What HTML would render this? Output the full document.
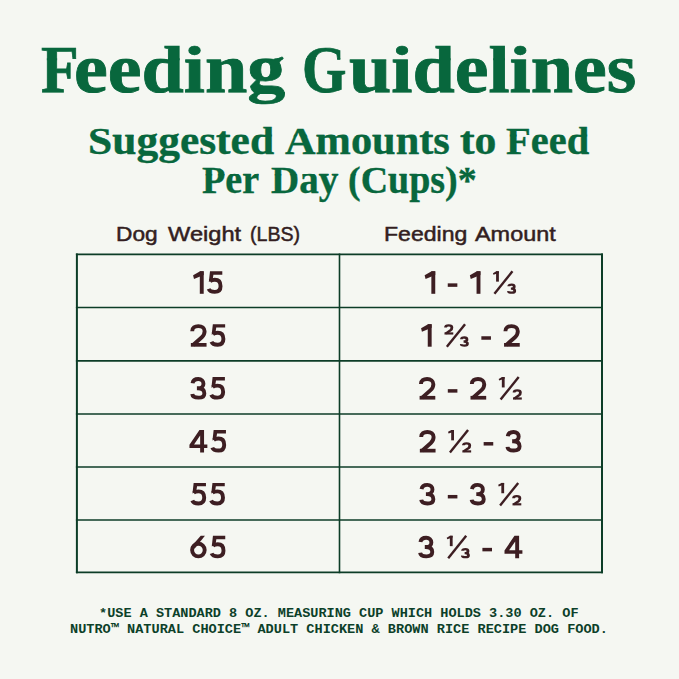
<!DOCTYPE html>
<html>
<head>
<meta charset="utf-8">
<style>
html,body{margin:0;padding:0;}
body{width:679px;height:679px;background:#f5f7f2;position:relative;overflow:hidden;}
.x{position:absolute;white-space:nowrap;line-height:1;transform-origin:0 0;}
svg{position:absolute;left:0;top:0;}
</style>
</head>
<body>
<svg width="679" height="679" viewBox="0 0 679 679"><g stroke="#0c3d27" fill="none"><line x1="75.9" y1="254.4" x2="603" y2="254.4" stroke-width="1.7"/><line x1="75.9" y1="307.5" x2="603" y2="307.5" stroke-width="1.7"/><line x1="75.9" y1="360.8" x2="603" y2="360.8" stroke-width="1.7"/><line x1="75.9" y1="414.0" x2="603" y2="414.0" stroke-width="1.7"/><line x1="75.9" y1="467.0" x2="603" y2="467.0" stroke-width="1.7"/><line x1="75.9" y1="520.0" x2="603" y2="520.0" stroke-width="1.7"/><line x1="75.9" y1="572.3" x2="603" y2="572.3" stroke-width="1.7"/><line x1="76.9" y1="253.5" x2="76.9" y2="573.2" stroke-width="2"/><line x1="339.5" y1="253.5" x2="339.5" y2="573.2" stroke-width="1.6"/><line x1="602" y1="253.5" x2="602" y2="573.2" stroke-width="2"/></g><g fill="none" stroke="#3d1e22" color="#3d1e22"><g transform="translate(193.10,271.30)"><path d="M8.65,0.00V22.50" stroke-width="3.90"/><path d="M7.00,0 L10.60,0 L10.60,3.60 L0.90,7.60 L0,4.00 Z" fill="currentColor" stroke="none"/></g><g transform="translate(207.00,271.30)"><path d="M3.00,0 L15.30,0 L15.30,3.40 L6.40,3.40 L5.60,8.60 L1.80,10.60 Z" fill="currentColor" stroke="none"/><path d="M3.00,9.90 C4.30,8.90 6.00,8.50 7.80,8.50 C11.80,8.50 13.55,11.20 13.55,14.90 C13.55,18.60 11.90,20.55 7.80,20.55 C4.90,20.55 2.40,19.60 1.65,17.60" stroke-width="3.90"/></g><g transform="translate(424.65,271.30)"><path d="M8.65,0.00V22.50" stroke-width="3.90"/><path d="M7.00,0 L10.60,0 L10.60,3.60 L0.90,7.60 L0,4.00 Z" fill="currentColor" stroke="none"/></g><g transform="translate(447.75,271.30)"><path d="M0,12.05 h9.6 v3.5 h-9.6 Z" fill="currentColor" stroke="none"/></g><g transform="translate(469.85,271.30)"><path d="M8.65,0.00V22.50" stroke-width="3.90"/><path d="M7.00,0 L10.60,0 L10.60,3.60 L0.90,7.60 L0,4.00 Z" fill="currentColor" stroke="none"/></g><g transform="translate(492.95,271.30)"><g transform="translate(0.00,0) scale(0.56,0.46)"><path d="M8.10,0.00V22.50" stroke-width="5.00"/><path d="M5.90,0 L10.60,0 L10.60,3.60 L0.90,7.60 L0,4.00 Z" fill="currentColor" stroke="none"/></g><g transform="translate(14.35,12.15) scale(0.56,0.46)"><path d="M2.60,6.20 C2.50,3.30 4.90,2.50 7.80,2.50 C11.00,2.50 12.40,3.90 12.40,6.60 C12.40,9.40 10.90,11.20 8.00,11.20 L6.40,11.20 M7.40,11.20 C11.60,11.20 13.30,13.20 13.30,16.30 C13.30,19.30 11.80,20.00 8.00,20.00 C4.70,20.00 2.00,19.50 2.30,16.90" stroke-width="5.00"/></g><path d="M19.50,0 L1.50,22.50" stroke-width="2.4"/></g><g transform="translate(190.25,324.20)"><path d="M1.95,7.00 C1.95,3.30 4.60,1.95 8.10,1.95 C11.80,1.95 14.35,3.90 14.35,7.10 C14.35,9.30 13.40,11.40 11.60,13.00 L2.88,20.75" stroke-width="3.90"/><path d="M0.60,18.80 H16.30 V22.50 H0.60 Z" fill="currentColor" stroke="none"/></g><g transform="translate(209.85,324.20)"><path d="M3.00,0 L15.30,0 L15.30,3.40 L6.40,3.40 L5.60,8.60 L1.80,10.60 Z" fill="currentColor" stroke="none"/><path d="M3.00,9.90 C4.30,8.90 6.00,8.50 7.80,8.50 C11.80,8.50 13.55,11.20 13.55,14.90 C13.55,18.60 11.90,20.55 7.80,20.55 C4.90,20.55 2.40,19.60 1.65,17.60" stroke-width="3.90"/></g><g transform="translate(421.05,324.20)"><path d="M8.65,0.00V22.50" stroke-width="3.90"/><path d="M7.00,0 L10.60,0 L10.60,3.60 L0.90,7.60 L0,4.00 Z" fill="currentColor" stroke="none"/></g><g transform="translate(444.15,324.20)"><g transform="translate(0.00,0) scale(0.56,0.46)"><path d="M2.50,7.00 C2.50,3.30 4.60,2.50 8.10,2.50 C11.80,2.50 13.80,3.90 13.80,7.10 C13.80,9.30 13.40,11.40 11.60,13.00 L3.05,20.25" stroke-width="5.00"/><path d="M0.60,17.75 H16.30 V22.50 H0.60 Z" fill="currentColor" stroke="none"/></g><g transform="translate(15.85,12.15) scale(0.56,0.46)"><path d="M2.60,6.20 C2.50,3.30 4.90,2.50 7.80,2.50 C11.00,2.50 12.40,3.90 12.40,6.60 C12.40,9.40 10.90,11.20 8.00,11.20 L6.40,11.20 M7.40,11.20 C11.60,11.20 13.30,13.20 13.30,16.30 C13.30,19.30 11.80,20.00 8.00,20.00 C4.70,20.00 2.00,19.50 2.30,16.90" stroke-width="5.00"/></g><path d="M20.90,0 L2.70,22.50" stroke-width="2.4"/></g><g transform="translate(481.35,324.20)"><path d="M0,12.05 h9.6 v3.5 h-9.6 Z" fill="currentColor" stroke="none"/></g><g transform="translate(503.45,324.20)"><path d="M1.95,7.00 C1.95,3.30 4.60,1.95 8.10,1.95 C11.80,1.95 14.35,3.90 14.35,7.10 C14.35,9.30 13.40,11.40 11.60,13.00 L2.88,20.75" stroke-width="3.90"/><path d="M0.60,18.80 H16.30 V22.50 H0.60 Z" fill="currentColor" stroke="none"/></g><g transform="translate(190.50,377.10)"><path d="M2.05,6.20 C2.50,3.30 4.90,1.95 7.80,1.95 C11.00,1.95 12.95,3.90 12.95,6.60 C12.95,9.40 10.90,11.20 8.00,11.20 L6.40,11.20 M7.40,11.20 C11.60,11.20 13.85,13.20 13.85,16.30 C13.85,19.30 11.80,20.55 8.00,20.55 C4.70,20.55 2.00,19.50 1.75,16.90" stroke-width="3.90"/></g><g transform="translate(209.60,377.10)"><path d="M3.00,0 L15.30,0 L15.30,3.40 L6.40,3.40 L5.60,8.60 L1.80,10.60 Z" fill="currentColor" stroke="none"/><path d="M3.00,9.90 C4.30,8.90 6.00,8.50 7.80,8.50 C11.80,8.50 13.55,11.20 13.55,14.90 C13.55,18.60 11.90,20.55 7.80,20.55 C4.90,20.55 2.40,19.60 1.65,17.60" stroke-width="3.90"/></g><g transform="translate(419.00,377.10)"><path d="M1.95,7.00 C1.95,3.30 4.60,1.95 8.10,1.95 C11.80,1.95 14.35,3.90 14.35,7.10 C14.35,9.30 13.40,11.40 11.60,13.00 L2.88,20.75" stroke-width="3.90"/><path d="M0.60,18.80 H16.30 V22.50 H0.60 Z" fill="currentColor" stroke="none"/></g><g transform="translate(447.80,377.10)"><path d="M0,12.05 h9.6 v3.5 h-9.6 Z" fill="currentColor" stroke="none"/></g><g transform="translate(469.90,377.10)"><path d="M1.95,7.00 C1.95,3.30 4.60,1.95 8.10,1.95 C11.80,1.95 14.35,3.90 14.35,7.10 C14.35,9.30 13.40,11.40 11.60,13.00 L2.88,20.75" stroke-width="3.90"/><path d="M0.60,18.80 H16.30 V22.50 H0.60 Z" fill="currentColor" stroke="none"/></g><g transform="translate(498.70,377.10)"><g transform="translate(0.00,0) scale(0.56,0.46)"><path d="M8.10,0.00V22.50" stroke-width="5.00"/><path d="M5.90,0 L10.60,0 L10.60,3.60 L0.90,7.60 L0,4.00 Z" fill="currentColor" stroke="none"/></g><g transform="translate(13.97,12.15) scale(0.56,0.46)"><path d="M2.50,7.00 C2.50,3.30 4.60,2.50 8.10,2.50 C11.80,2.50 13.80,3.90 13.80,7.10 C13.80,9.30 13.40,11.40 11.60,13.00 L3.05,20.25" stroke-width="5.00"/><path d="M0.60,17.75 H16.30 V22.50 H0.60 Z" fill="currentColor" stroke="none"/></g><path d="M20.00,0 L1.90,22.50" stroke-width="2.4"/></g><g transform="translate(189.45,430.00)"><path d="M10.00,0 L14.60,0 L14.60,14.40 L17.90,14.40 L17.90,17.90 L14.60,17.90 L14.60,22.50 L10.70,22.50 L10.70,17.90 L0,17.90 L0,14.70 Z M10.70,5.60 L10.70,14.40 L4.60,14.40 Z" fill="currentColor" fill-rule="evenodd" stroke="none"/></g><g transform="translate(210.65,430.00)"><path d="M3.00,0 L15.30,0 L15.30,3.40 L6.40,3.40 L5.60,8.60 L1.80,10.60 Z" fill="currentColor" stroke="none"/><path d="M3.00,9.90 C4.30,8.90 6.00,8.50 7.80,8.50 C11.80,8.50 13.55,11.20 13.55,14.90 C13.55,18.60 11.90,20.55 7.80,20.55 C4.90,20.55 2.40,19.60 1.65,17.60" stroke-width="3.90"/></g><g transform="translate(419.25,430.00)"><path d="M1.95,7.00 C1.95,3.30 4.60,1.95 8.10,1.95 C11.80,1.95 14.35,3.90 14.35,7.10 C14.35,9.30 13.40,11.40 11.60,13.00 L2.88,20.75" stroke-width="3.90"/><path d="M0.60,18.80 H16.30 V22.50 H0.60 Z" fill="currentColor" stroke="none"/></g><g transform="translate(448.05,430.00)"><g transform="translate(0.00,0) scale(0.56,0.46)"><path d="M8.10,0.00V22.50" stroke-width="5.00"/><path d="M5.90,0 L10.60,0 L10.60,3.60 L0.90,7.60 L0,4.00 Z" fill="currentColor" stroke="none"/></g><g transform="translate(13.97,12.15) scale(0.56,0.46)"><path d="M2.50,7.00 C2.50,3.30 4.60,2.50 8.10,2.50 C11.80,2.50 13.80,3.90 13.80,7.10 C13.80,9.30 13.40,11.40 11.60,13.00 L3.05,20.25" stroke-width="5.00"/><path d="M0.60,17.75 H16.30 V22.50 H0.60 Z" fill="currentColor" stroke="none"/></g><path d="M20.00,0 L1.90,22.50" stroke-width="2.4"/></g><g transform="translate(483.65,430.00)"><path d="M0,12.05 h9.6 v3.5 h-9.6 Z" fill="currentColor" stroke="none"/></g><g transform="translate(505.75,430.00)"><path d="M2.05,6.20 C2.50,3.30 4.90,1.95 7.80,1.95 C11.00,1.95 12.95,3.90 12.95,6.60 C12.95,9.40 10.90,11.20 8.00,11.20 L6.40,11.20 M7.40,11.20 C11.60,11.20 13.85,13.20 13.85,16.30 C13.85,19.30 11.80,20.55 8.00,20.55 C4.70,20.55 2.00,19.50 1.75,16.90" stroke-width="3.90"/></g><g transform="translate(190.65,482.90)"><path d="M3.00,0 L15.30,0 L15.30,3.40 L6.40,3.40 L5.60,8.60 L1.80,10.60 Z" fill="currentColor" stroke="none"/><path d="M3.00,9.90 C4.30,8.90 6.00,8.50 7.80,8.50 C11.80,8.50 13.55,11.20 13.55,14.90 C13.55,18.60 11.90,20.55 7.80,20.55 C4.90,20.55 2.40,19.60 1.65,17.60" stroke-width="3.90"/></g><g transform="translate(209.45,482.90)"><path d="M3.00,0 L15.30,0 L15.30,3.40 L6.40,3.40 L5.60,8.60 L1.80,10.60 Z" fill="currentColor" stroke="none"/><path d="M3.00,9.90 C4.30,8.90 6.00,8.50 7.80,8.50 C11.80,8.50 13.55,11.20 13.55,14.90 C13.55,18.60 11.90,20.55 7.80,20.55 C4.90,20.55 2.40,19.60 1.65,17.60" stroke-width="3.90"/></g><g transform="translate(419.50,482.90)"><path d="M2.05,6.20 C2.50,3.30 4.90,1.95 7.80,1.95 C11.00,1.95 12.95,3.90 12.95,6.60 C12.95,9.40 10.90,11.20 8.00,11.20 L6.40,11.20 M7.40,11.20 C11.60,11.20 13.85,13.20 13.85,16.30 C13.85,19.30 11.80,20.55 8.00,20.55 C4.70,20.55 2.00,19.50 1.75,16.90" stroke-width="3.90"/></g><g transform="translate(447.80,482.90)"><path d="M0,12.05 h9.6 v3.5 h-9.6 Z" fill="currentColor" stroke="none"/></g><g transform="translate(469.90,482.90)"><path d="M2.05,6.20 C2.50,3.30 4.90,1.95 7.80,1.95 C11.00,1.95 12.95,3.90 12.95,6.60 C12.95,9.40 10.90,11.20 8.00,11.20 L6.40,11.20 M7.40,11.20 C11.60,11.20 13.85,13.20 13.85,16.30 C13.85,19.30 11.80,20.55 8.00,20.55 C4.70,20.55 2.00,19.50 1.75,16.90" stroke-width="3.90"/></g><g transform="translate(498.20,482.90)"><g transform="translate(0.00,0) scale(0.56,0.46)"><path d="M8.10,0.00V22.50" stroke-width="5.00"/><path d="M5.90,0 L10.60,0 L10.60,3.60 L0.90,7.60 L0,4.00 Z" fill="currentColor" stroke="none"/></g><g transform="translate(13.97,12.15) scale(0.56,0.46)"><path d="M2.50,7.00 C2.50,3.30 4.60,2.50 8.10,2.50 C11.80,2.50 13.80,3.90 13.80,7.10 C13.80,9.30 13.40,11.40 11.60,13.00 L3.05,20.25" stroke-width="5.00"/><path d="M0.60,17.75 H16.30 V22.50 H0.60 Z" fill="currentColor" stroke="none"/></g><path d="M20.00,0 L1.90,22.50" stroke-width="2.4"/></g><g transform="translate(190.15,535.80)"><circle cx="8.25" cy="14.25" r="6.30" stroke-width="3.90"/><path d="M10.60,0 L14.80,0 L4.60,12.60 L0.90,11.00 Z" fill="currentColor" stroke="none"/></g><g transform="translate(209.95,535.80)"><path d="M3.00,0 L15.30,0 L15.30,3.40 L6.40,3.40 L5.60,8.60 L1.80,10.60 Z" fill="currentColor" stroke="none"/><path d="M3.00,9.90 C4.30,8.90 6.00,8.50 7.80,8.50 C11.80,8.50 13.55,11.20 13.55,14.90 C13.55,18.60 11.90,20.55 7.80,20.55 C4.90,20.55 2.40,19.60 1.65,17.60" stroke-width="3.90"/></g><g transform="translate(418.40,535.80)"><path d="M2.05,6.20 C2.50,3.30 4.90,1.95 7.80,1.95 C11.00,1.95 12.95,3.90 12.95,6.60 C12.95,9.40 10.90,11.20 8.00,11.20 L6.40,11.20 M7.40,11.20 C11.60,11.20 13.85,13.20 13.85,16.30 C13.85,19.30 11.80,20.55 8.00,20.55 C4.70,20.55 2.00,19.50 1.75,16.90" stroke-width="3.90"/></g><g transform="translate(446.70,535.80)"><g transform="translate(0.00,0) scale(0.56,0.46)"><path d="M8.10,0.00V22.50" stroke-width="5.00"/><path d="M5.90,0 L10.60,0 L10.60,3.60 L0.90,7.60 L0,4.00 Z" fill="currentColor" stroke="none"/></g><g transform="translate(14.35,12.15) scale(0.56,0.46)"><path d="M2.60,6.20 C2.50,3.30 4.90,2.50 7.80,2.50 C11.00,2.50 12.40,3.90 12.40,6.60 C12.40,9.40 10.90,11.20 8.00,11.20 L6.40,11.20 M7.40,11.20 C11.60,11.20 13.30,13.20 13.30,16.30 C13.30,19.30 11.80,20.00 8.00,20.00 C4.70,20.00 2.00,19.50 2.30,16.90" stroke-width="5.00"/></g><path d="M19.50,0 L1.50,22.50" stroke-width="2.4"/></g><g transform="translate(482.40,535.80)"><path d="M0,12.05 h9.6 v3.5 h-9.6 Z" fill="currentColor" stroke="none"/></g><g transform="translate(504.50,535.80)"><path d="M10.00,0 L14.60,0 L14.60,14.40 L17.90,14.40 L17.90,17.90 L14.60,17.90 L14.60,22.50 L10.70,22.50 L10.70,17.90 L0,17.90 L0,14.70 Z M10.70,5.60 L10.70,14.40 L4.60,14.40 Z" fill="currentColor" fill-rule="evenodd" stroke="none"/></g></g></svg>
<div class="x" style='font-family:"Liberation Serif";font-weight:bold;font-size:69px;color:#08673d;-webkit-text-stroke:0.8px #08673d;left:41.31px;top:34.91px;transform-origin:0 57.79px;transform:scale(0.8947,0.8200);clip-path:inset(56.79px -50px -50px -50px);'>F</div>
<div class="x" style='font-family:"Liberation Serif";font-weight:bold;font-size:69px;color:#08673d;-webkit-text-stroke:0.8px #08673d;left:41.31px;top:34.91px;transform:scaleX(0.8947);clip-path:inset(23.29px -50px calc(100% - 58.79px) -50px);'>F</div>
<div class="x" style='font-family:"Liberation Serif";font-weight:bold;font-size:69px;color:#08673d;-webkit-text-stroke:0.8px #08673d;left:41.31px;top:34.91px;transform-origin:0 24.29px;transform:scale(0.8947,0.8600);clip-path:inset(-50px -50px calc(100% - 25.29px) -50px);'>F</div>
<div class="x" style='font-family:"Liberation Serif";font-weight:bold;font-size:69px;color:#08673d;-webkit-text-stroke:0.8px #08673d;left:74.40px;top:34.91px;transform-origin:0 57.79px;transform:scale(1.1021,0.8200);clip-path:inset(56.79px -50px -50px -50px);'>eeding</div>
<div class="x" style='font-family:"Liberation Serif";font-weight:bold;font-size:69px;color:#08673d;-webkit-text-stroke:0.8px #08673d;left:74.40px;top:34.91px;transform:scaleX(1.1021);clip-path:inset(23.29px -50px calc(100% - 58.79px) -50px);'>eeding</div>
<div class="x" style='font-family:"Liberation Serif";font-weight:bold;font-size:69px;color:#08673d;-webkit-text-stroke:0.8px #08673d;left:74.40px;top:34.91px;transform-origin:0 24.29px;transform:scale(1.1021,0.8600);clip-path:inset(-50px -50px calc(100% - 25.29px) -50px);'>eeding</div>
<div class="x" style='font-family:"Liberation Serif";font-weight:bold;font-size:69px;color:#08673d;-webkit-text-stroke:0.8px #08673d;left:301.51px;top:34.91px;transform-origin:0 57.79px;transform:scale(0.8286,0.8200);clip-path:inset(56.79px -50px -50px -50px);'>G</div>
<div class="x" style='font-family:"Liberation Serif";font-weight:bold;font-size:69px;color:#08673d;-webkit-text-stroke:0.8px #08673d;left:301.51px;top:34.91px;transform:scaleX(0.8286);clip-path:inset(23.29px -50px calc(100% - 58.79px) -50px);'>G</div>
<div class="x" style='font-family:"Liberation Serif";font-weight:bold;font-size:69px;color:#08673d;-webkit-text-stroke:0.8px #08673d;left:301.51px;top:34.91px;transform-origin:0 24.29px;transform:scale(0.8286,0.8600);clip-path:inset(-50px -50px calc(100% - 25.29px) -50px);'>G</div>
<div class="x" style='font-family:"Liberation Serif";font-weight:bold;font-size:69px;color:#08673d;-webkit-text-stroke:0.8px #08673d;left:348.50px;top:34.91px;transform-origin:0 57.79px;transform:scale(1.1019,0.8200);clip-path:inset(56.79px -50px -50px -50px);'>uidelines</div>
<div class="x" style='font-family:"Liberation Serif";font-weight:bold;font-size:69px;color:#08673d;-webkit-text-stroke:0.8px #08673d;left:348.50px;top:34.91px;transform:scaleX(1.1019);clip-path:inset(23.29px -50px calc(100% - 58.79px) -50px);'>uidelines</div>
<div class="x" style='font-family:"Liberation Serif";font-weight:bold;font-size:69px;color:#08673d;-webkit-text-stroke:0.8px #08673d;left:348.50px;top:34.91px;transform-origin:0 24.29px;transform:scale(1.1019,0.8600);clip-path:inset(-50px -50px calc(100% - 25.29px) -50px);'>uidelines</div>
<div class="x" style='font-family:"Liberation Serif";font-weight:bold;font-size:39.5px;color:#08673d;-webkit-text-stroke:0.35px #08673d;left:88.10px;top:121.92px;transform:scaleX(1.1012);clip-path:inset(12.58px -50px -50px -50px);'>Suggested</div>
<div class="x" style='font-family:"Liberation Serif";font-weight:bold;font-size:39.5px;color:#08673d;-webkit-text-stroke:0.35px #08673d;left:88.10px;top:121.92px;transform-origin:0 13.58px;transform:scale(1.1012,0.8400);clip-path:inset(-50px -50px calc(100% - 14.58px) -50px);'>Suggested</div>
<div class="x" style='font-family:"Liberation Serif";font-weight:bold;font-size:39.5px;color:#08673d;-webkit-text-stroke:0.35px #08673d;left:284.50px;top:121.92px;transform:scaleX(1.0725);clip-path:inset(12.58px -50px -50px -50px);'>Amounts</div>
<div class="x" style='font-family:"Liberation Serif";font-weight:bold;font-size:39.5px;color:#08673d;-webkit-text-stroke:0.35px #08673d;left:284.50px;top:121.92px;transform-origin:0 13.58px;transform:scale(1.0725,0.8400);clip-path:inset(-50px -50px calc(100% - 14.58px) -50px);'>Amounts</div>
<div class="x" style='font-family:"Liberation Serif";font-weight:bold;font-size:39.5px;color:#08673d;-webkit-text-stroke:0.35px #08673d;left:460.00px;top:121.92px;transform:scaleX(1.1062);clip-path:inset(12.58px -50px -50px -50px);'>to</div>
<div class="x" style='font-family:"Liberation Serif";font-weight:bold;font-size:39.5px;color:#08673d;-webkit-text-stroke:0.35px #08673d;left:460.00px;top:121.92px;transform-origin:0 13.58px;transform:scale(1.1062,0.8400);clip-path:inset(-50px -50px calc(100% - 14.58px) -50px);'>to</div>
<div class="x" style='font-family:"Liberation Serif";font-weight:bold;font-size:39.5px;color:#08673d;-webkit-text-stroke:0.35px #08673d;left:506.00px;top:121.92px;transform:scaleX(1.0247);clip-path:inset(12.58px -50px -50px -50px);'>Feed</div>
<div class="x" style='font-family:"Liberation Serif";font-weight:bold;font-size:39.5px;color:#08673d;-webkit-text-stroke:0.35px #08673d;left:506.00px;top:121.92px;transform-origin:0 13.58px;transform:scale(1.0247,0.8400);clip-path:inset(-50px -50px calc(100% - 14.58px) -50px);'>Feed</div>
<div class="x" style='font-family:"Liberation Serif";font-weight:bold;font-size:39.5px;color:#08673d;-webkit-text-stroke:0.35px #08673d;left:202.00px;top:161.32px;transform:scaleX(0.9644);clip-path:inset(12.58px -50px -50px -50px);'>Per</div>
<div class="x" style='font-family:"Liberation Serif";font-weight:bold;font-size:39.5px;color:#08673d;-webkit-text-stroke:0.35px #08673d;left:202.00px;top:161.32px;transform-origin:0 13.58px;transform:scale(0.9644,0.8400);clip-path:inset(-50px -50px calc(100% - 14.58px) -50px);'>Per</div>
<div class="x" style='font-family:"Liberation Serif";font-weight:bold;font-size:39.5px;color:#08673d;-webkit-text-stroke:0.35px #08673d;left:270.70px;top:161.32px;transform:scaleX(0.9882);clip-path:inset(12.58px -50px -50px -50px);'>Day</div>
<div class="x" style='font-family:"Liberation Serif";font-weight:bold;font-size:39.5px;color:#08673d;-webkit-text-stroke:0.35px #08673d;left:270.70px;top:161.32px;transform-origin:0 13.58px;transform:scale(0.9882,0.8400);clip-path:inset(-50px -50px calc(100% - 14.58px) -50px);'>Day</div>
<div class="x" style='font-family:"Liberation Serif";font-weight:bold;font-size:39.5px;color:#08673d;-webkit-text-stroke:0.35px #08673d;left:347.54px;top:161.32px;transform:scaleX(0.9614);clip-path:inset(12.58px -50px -50px -50px);'>(Cups)*</div>
<div class="x" style='font-family:"Liberation Serif";font-weight:bold;font-size:39.5px;color:#08673d;-webkit-text-stroke:0.35px #08673d;left:347.54px;top:161.32px;transform-origin:0 13.58px;transform:scale(0.9614,0.8400);clip-path:inset(-50px -50px calc(100% - 14.58px) -50px);'>(Cups)*</div>
<div class="x" style='font-family:"Liberation Sans";font-weight:normal;font-size:21px;color:#331e21;-webkit-text-stroke:0.5px #331e21;left:116.32px;top:223.22px;transform:scaleX(1.0811);'>Dog</div>
<div class="x" style='font-family:"Liberation Sans";font-weight:normal;font-size:21px;color:#331e21;-webkit-text-stroke:0.5px #331e21;left:167.70px;top:223.22px;transform:scaleX(1.1258);'>Weight</div>
<div class="x" style='font-family:"Liberation Sans";font-weight:normal;font-size:21px;color:#331e21;-webkit-text-stroke:0.5px #331e21;left:249.57px;top:223.22px;transform:scaleX(0.9327);'>(LBS)</div>
<div class="x" style='font-family:"Liberation Sans";font-weight:normal;font-size:21px;color:#331e21;-webkit-text-stroke:0.5px #331e21;left:384.20px;top:223.22px;transform:scaleX(1.0973);'>Feeding</div>
<div class="x" style='font-family:"Liberation Sans";font-weight:normal;font-size:21px;color:#331e21;-webkit-text-stroke:0.5px #331e21;left:475.30px;top:223.22px;transform:scaleX(1.1151);'>Amount</div>
<div class="x" style='font-family:"Liberation Mono";font-weight:bold;font-size:13.5px;color:#0c4029;left:98.99px;top:606.65px;transform:scaleX(1.0032);'>*USE A STANDARD 8 OZ. MEASURING CUP WHICH HOLDS 3.30 OZ. OF</div>
<div class="x" style='font-family:"Liberation Mono";font-weight:bold;font-size:13.5px;color:#0c4029;left:70.49px;top:622.65px;transform:scaleX(1.0060);'>NUTRO™ NATURAL CHOICE™ ADULT CHICKEN &amp; BROWN RICE RECIPE DOG FOOD.</div>
</body>
</html>
